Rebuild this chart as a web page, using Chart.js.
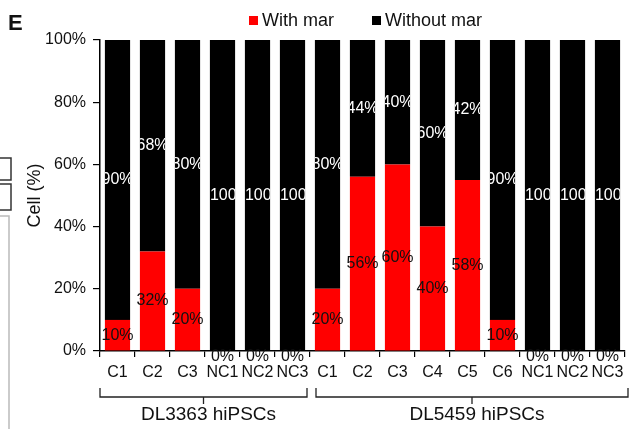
<!DOCTYPE html>
<html>
<head>
<meta charset="utf-8">
<script src="https://cdn.jsdelivr.net/npm/chart.js@4/dist/chart.umd.min.js"></script>
<style>
html, body { margin: 0; padding: 0; background: #fff; }
canvas { display: block; }
</style>
</head>
<body>
<canvas id="grafikMar" width="636" height="429"></canvas>
<script>
// data
var kategori = ['C1', 'C2', 'C3', 'NC1', 'NC2', 'NC3', 'C1', 'C2', 'C3', 'C4', 'C5', 'C6', 'NC1', 'NC2', 'NC3'];
var withMar = [10, 32, 20, 0, 0, 0, 20, 56, 60, 40, 55, 10, 0, 0, 0];
var withoutMar = [90, 68, 80, 100, 100, 100, 80, 44, 40, 60, 45, 90, 100, 100, 100];
var withMarText = ['10%', '32%', '20%', '0%', '0%', '0%', '20%', '56%', '60%', '40%', '58%', '10%', '0%', '0%', '0%'];
var withoutMarText = ['90%', '68%', '80%', '100%', '100%', '100%', '80%', '44%', '40%', '60%', '42%', '90%', '100%', '100%', '100%'];
var grupLabel = ['DL3363 hiPSCs', 'DL5459 hiPSCs'];
var grupJumlah = [6, 9];
var yTicks = [0, 20, 40, 60, 80, 100];

var FONT = 'Arial, "Liberation Sans", sans-serif';

// label angka di tengah tiap segmen (label putih terpotong oleh batangnya)
var labelPlugin = {
    id: 'labelBatang',
    afterDatasetsDraw: function (chart) {
        var ctx = chart.ctx;
        chart.data.datasets.forEach(function (ds, di) {
            var meta = chart.getDatasetMeta(di);
            meta.data.forEach(function (bar, i) {
                ctx.save();
                ctx.font = '16px ' + FONT;
                ctx.textBaseline = 'middle';
                ctx.textAlign = 'center';
                var y = (bar.y + bar.base) / 2;
                var x = bar.x;
                if (ds.data[i] === 0) y = bar.base + 6;
                if (di === 1) {
                    var kiri = bar.x - bar.width / 2;
                    ctx.beginPath();
                    ctx.rect(kiri, Math.min(bar.y, bar.base), bar.width, Math.abs(bar.base - bar.y));
                    ctx.clip();
                    if (ctx.measureText(ds.teks[i]).width > bar.width + 8) {
                        ctx.textAlign = 'left';
                        x = kiri;
                    }
                }
                ctx.fillStyle = di === 0 ? '#111' : '#fff';
                ctx.fillText(ds.teks[i], x, y);
                ctx.restore();
            });
        });
    }
};

// legenda, huruf E, kurung grup dan sisa panel kiri
var hiasanPlugin = {
    id: 'hiasan',
    afterDraw: function (chart) {
        var ctx = chart.ctx;
        var x = chart.scales.x;
        ctx.save();

        ctx.font = 'bold 22px ' + FONT;
        ctx.fillStyle = '#111';
        ctx.textBaseline = 'middle';
        ctx.fillText('E', 8, 24);

        ctx.font = '18px ' + FONT;
        var lx = [249, 372];
        chart.data.datasets.forEach(function (ds, di) {
            ctx.fillStyle = ds.backgroundColor;
            ctx.fillRect(lx[di], 16, 9, 9);
            ctx.fillStyle = '#111';
            ctx.fillText(ds.label, lx[di] + 13, 21);
        });

        var langkah = x.getPixelForValue(1) - x.getPixelForValue(0);
        var mulai = 0;
        var yk = 397;
        ctx.strokeStyle = '#222';
        ctx.lineWidth = 1.3;
        ctx.font = '19px ' + FONT;
        ctx.textAlign = 'center';
        grupJumlah.forEach(function (n, g) {
            var x0 = x.getPixelForValue(mulai) - langkah / 2 + (g === 0 ? 0 : 6);
            var x1 = x.getPixelForValue(mulai + n - 1) + langkah / 2 - (g === 0 ? 3 : -3);
            var xm = (x0 + x1) / 2;
            ctx.beginPath();
            ctx.moveTo(x0, yk - 9);
            ctx.lineTo(x0, yk);
            ctx.lineTo(x1, yk);
            ctx.lineTo(x1, yk - 9);
            ctx.moveTo(xm, yk);
            ctx.lineTo(xm, yk + 7);
            ctx.stroke();
            ctx.fillText(grupLabel[g], xm + 5, 415);
            mulai += n;
        });

        ctx.lineWidth = 1.5;
        ctx.strokeStyle = '#333';
        ctx.strokeRect(-2, 158, 13, 22);
        ctx.strokeRect(-2, 184, 13, 26);
        ctx.strokeStyle = '#bbb';
        ctx.beginPath();
        ctx.moveTo(0, 216);
        ctx.lineTo(9, 216);
        ctx.lineTo(9, 429);
        ctx.stroke();
        ctx.restore();
    }
};

var grafikMar = new Chart(document.getElementById('grafikMar'), {
    type: 'bar',
    data: {
        labels: kategori,
        datasets: [{
            label: 'With mar',
            data: withMar,
            teks: withMarText,
            backgroundColor: '#ff0000',
            barPercentage: 0.72,
            categoryPercentage: 1
        }, {
            label: 'Without mar',
            data: withoutMar,
            teks: withoutMarText,
            backgroundColor: '#000000',
            barPercentage: 0.72,
            categoryPercentage: 1
        }]
    },
    options: {
        responsive: false,
        animation: false,
        devicePixelRatio: 1,
        layout: { padding: { top: 40, right: 11, left: 0, bottom: 0 } },
        plugins: {
            legend: { display: false },
            tooltip: { enabled: false }
        },
        scales: {
            x: {
                stacked: true,
                grid: { offset: true, drawOnChartArea: false, tickLength: 6, color: '#000', lineWidth: 1.2 },
                border: { color: '#000', width: 1.5 },
                ticks: { color: '#111', font: { size: 16, family: FONT }, padding: 6, maxRotation: 0, autoSkip: false },
                afterFit: function (s) { s.height = 78; }
            },
            y: {
                stacked: true,
                min: 0,
                max: 100,
                afterBuildTicks: function (s) { s.ticks = yTicks.map(function (v) { return { value: v }; }); },
                grid: { drawOnChartArea: false, tickLength: 7, color: '#000', lineWidth: 1.2 },
                border: { color: '#000', width: 1.5 },
                ticks: {
                    color: '#111',
                    font: { size: 16, family: FONT },
                    padding: 7,
                    callback: function (v) { return v + '%'; }
                },
                title: {
                    display: true,
                    text: 'Cell (%)',
                    color: '#111',
                    font: { size: 18, family: FONT },
                    padding: { top: 24, bottom: 0 }
                },
                afterFit: function (s) { s.width = 100; }
            }
        }
    },
    plugins: [labelPlugin, hiasanPlugin]
});
</script>
</body>
</html>
